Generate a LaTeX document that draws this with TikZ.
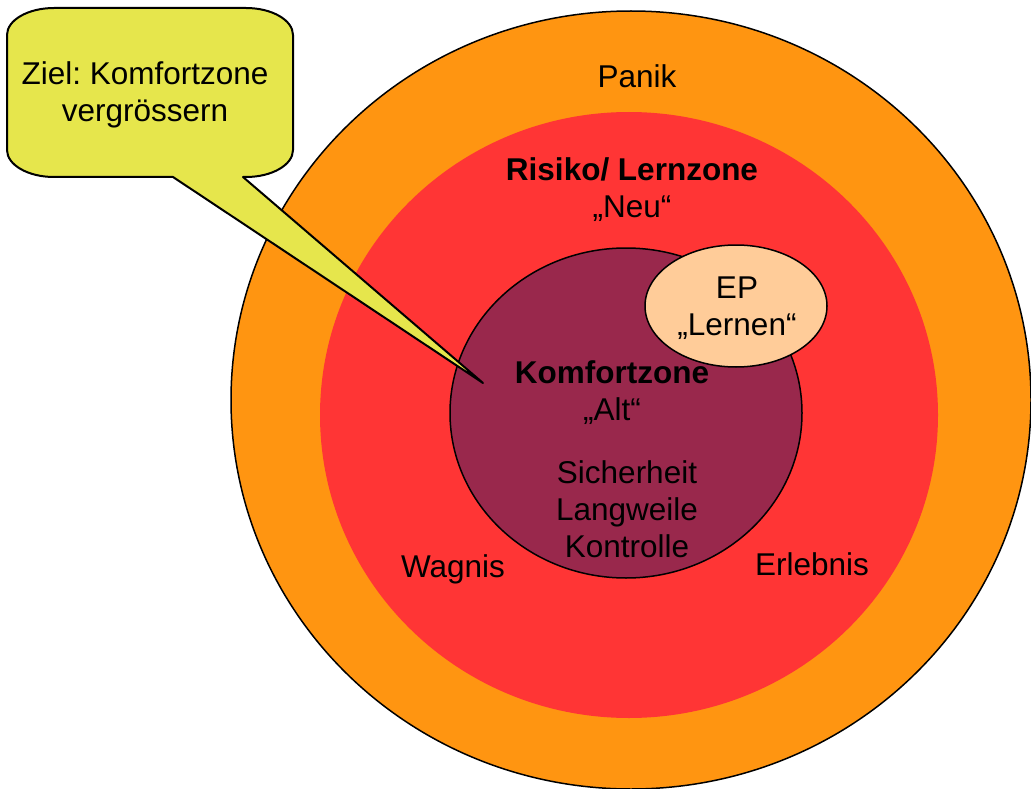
\documentclass[tikz,border=0pt]{standalone}
\usepackage{fontspec}
\setmainfont{Liberation Sans}
\usetikzlibrary{shapes.geometric}
\definecolor{panik}{HTML}{FF9511}
\definecolor{risiko}{HTML}{FF3535}
\definecolor{komfort}{HTML}{99284C}
\definecolor{lernen}{HTML}{FFCC99}
\definecolor{ziel}{HTML}{E6E64C}
\frenchspacing

\begin{document}
\begin{tikzpicture}[
  x=1pt, y=-1pt,
  zone/.style={ellipse, inner sep=0pt, outer sep=0pt},
  rim/.style={draw=black, line width=1.5pt},
  zonetext/.style={font=\fontsize{31.5}{37}\selectfont, align=center, inner sep=0pt},
  bubble/.style={draw=black, line width=2pt, fill=ziel, line join=round}
]
\useasboundingbox (0,0) rectangle (1031,789);
% zones, outside in
\node[zone, rim, fill=panik, minimum width=800, minimum height=778] (panik) at (631,400) {};
\node[zone, fill=risiko, minimum width=618, minimum height=606] (risiko) at (629,415) {};
\node[zone, rim, fill=komfort, minimum width=352, minimum height=330] (komfort) at (626,413) {};
\node[zone, rim, fill=lernen, minimum width=182, minimum height=122] (ep) at (736,306) {};
% zone labels
\node[zonetext] (paniktext) at (637,76) {Panik};
\node[zonetext] (risikotext) at (632,190) {\textbf{Risiko/ Lernzone}\\„Neu“};
\node[zonetext] (komforttext) at (612,393) {\textbf{Komfortzone}\\„Alt“};
\node[zonetext] (gefuehl) at (627,509) {Sicherheit\\Langweile\\Kontrolle};
\node[zonetext] (wagnis) at (453,569) {Wagnis};
\node[zonetext] (erlebnis) at (812,564) {Erlebnis};
\node[zonetext] (eptext) at (737,308) {EP\\„Lernen“};
% speech bubble
\coordinate (tip) at (483,383);
\path[bubble] (54,8) -- (246,8)
  arc[start angle=-90, end angle=0, x radius=47, y radius=27] -- (293,150)
  arc[start angle=0, end angle=90, x radius=47, y radius=27] -- (243,177)
  -- (tip) -- (173,177) -- (54,177)
  arc[start angle=90, end angle=180, x radius=47, y radius=27] -- (7,35)
  arc[start angle=180, end angle=270, x radius=47, y radius=27] -- cycle;
\node[zonetext] (ziel) at (145,95) {Ziel: Komfortzone\\vergrössern};
\end{tikzpicture}
\end{document}
